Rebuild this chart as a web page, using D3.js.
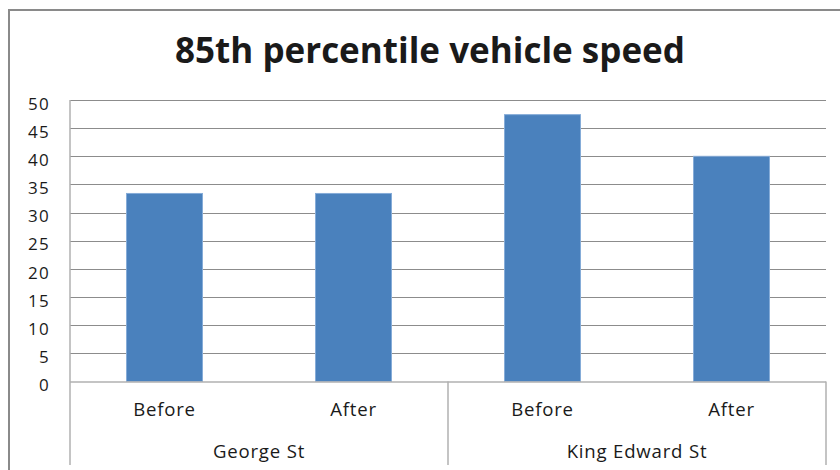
<!DOCTYPE html>
<html>
<head>
<meta charset="utf-8">
<script src="https://cdn.jsdelivr.net/npm/d3@7/dist/d3.min.js"></script>
<style>
  html, body { margin: 0; padding: 0; background: #ffffff; }
  svg { display: block; }
  text { font-family: "Open Sans", "Noto Sans", sans-serif; fill: #1a1a1a; }
</style>
</head>
<body>
<svg id="chart" width="840" height="470"></svg>
<script>
// 85th percentile speeds, before and after, for two streets
const streets = ["George St", "King Edward St"];
const periods = ["Before", "After"];
const speeds = [33.4, 33.4, 47.4, 40];
const yTicks = [0, 5, 10, 15, 20, 25, 30, 35, 40, 45, 50];
const titleText = "85th percentile vehicle speed";

const rows = [];
streets.forEach((s, i) => periods.forEach((p, j) => {
  rows.push({ street: s, period: p, key: s + "|" + p, value: speeds[i * periods.length + j] });
}));

const W = 840, H = 470;
const plot = { left: 70, right: 826, top: 100, bottom: 381.5 };
const axisBottom = 465;

const svg = d3.select("#chart");

// outer chart frame
svg.append("rect")
  .attr("x", 9).attr("y", 10)
  .attr("width", W).attr("height", H)
  .attr("fill", "none")
  .attr("stroke", "#8a8a8a")
  .attr("stroke-width", 2);

const y = d3.scaleLinear().domain([0, 50]).range([plot.bottom, plot.top]);
const x = d3.scaleBand()
  .domain(rows.map(d => d.key))
  .range([plot.left, plot.right])
  .paddingInner(0.598)
  .paddingOuter(0.299);
const xGroup = d3.scaleBand()
  .domain(streets)
  .range([plot.left, plot.right]);

// horizontal gridlines
const grid = svg.append("g")
  .attr("transform", `translate(${plot.left},0)`)
  .call(d3.axisLeft(y).tickValues(yTicks.filter(t => t > 0))
    .tickSize(-(plot.right - plot.left)).tickFormat(""));
grid.select(".domain").remove();
grid.selectAll("line").attr("stroke", "#8c8c8c").attr("shape-rendering", "crispEdges");

// value axis labels
const yAxis = svg.append("g")
  .attr("transform", `translate(${plot.left},0)`)
  .call(d3.axisLeft(y).tickValues(yTicks).tickSize(0).tickPadding(20));
yAxis.select(".domain").remove();
yAxis.selectAll("text")
  .attr("dy", "0.36em")
  .attr("y", 3)
  .style("font-size", "17px")
  .style("letter-spacing", "1.3px")
  .style("font-family", "'Open Sans', sans-serif")
  .attr("fill", "#1a1a1a");

// bars
svg.append("g").selectAll("rect")
  .data(rows)
  .join("rect")
  .attr("x", d => x(d.key))
  .attr("y", d => y(d.value))
  .attr("width", x.bandwidth())
  .attr("height", d => y(0) - y(d.value))
  .attr("fill", "#4a81bd")
  .attr("stroke", "#86acd8")
  .attr("stroke-width", 1);

// axis lines: value axis, category baseline, group separators
const axisCol = "#b0b0b0";
const lines = svg.append("g").attr("stroke", axisCol).attr("stroke-width", 1.5);
lines.append("line")
  .attr("x1", plot.left).attr("x2", plot.left)
  .attr("y1", plot.top).attr("y2", axisBottom);
lines.append("line")
  .attr("x1", plot.left).attr("x2", plot.right)
  .attr("y1", y(0) + 0.5).attr("y2", y(0) + 0.5);
lines.selectAll("line.sep")
  .data(streets)
  .join("line")
  .attr("class", "sep")
  .attr("x1", d => xGroup(d) + xGroup.bandwidth())
  .attr("x2", d => xGroup(d) + xGroup.bandwidth())
  .attr("y1", y(0))
  .attr("y2", axisBottom);

// period labels
svg.append("g").selectAll("text")
  .data(rows)
  .join("text")
  .attr("x", d => x(d.key) + x.bandwidth() / 2)
  .attr("y", 416)
  .attr("text-anchor", "middle")
  .style("font-size", "18.6px")
  .style("letter-spacing", "0.8px")
  .text(d => d.period);

// street labels
svg.append("g").selectAll("text")
  .data(streets)
  .join("text")
  .attr("x", d => xGroup(d) + xGroup.bandwidth() / 2)
  .attr("y", 457.5)
  .attr("text-anchor", "middle")
  .style("font-size", "18.6px")
  .style("letter-spacing", "0.8px")
  .text(d => d);

// title
svg.append("text")
  .attr("x", 430)
  .attr("y", 62.5)
  .attr("text-anchor", "middle")
  .style("font-size", "35px")
  .style("font-weight", "bold")
  .attr("fill", "#000")
  .text(titleText);
</script>
</body>
</html>
